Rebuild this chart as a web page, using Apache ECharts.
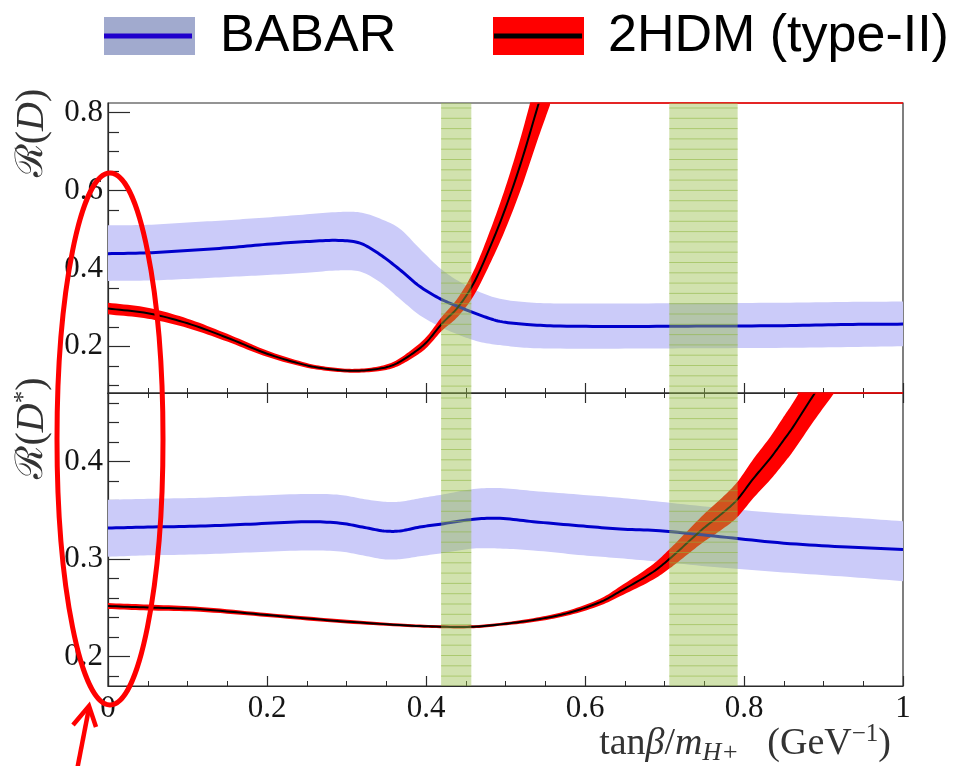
<!DOCTYPE html>
<html><head><meta charset="utf-8">
<script src="https://cdn.jsdelivr.net/npm/echarts@6/dist/echarts.min.js"></script>
<style>html,body{margin:0;padding:0;background:#fff}#c{width:958px;height:766px}</style>
</head><body><div id="c"></div>
<script>
// ---------- data ----------
// R(D) panel, BABAR measurement band
const rdBabarX  = [0, 0.05, 0.1, 0.15, 0.2, 0.25, 0.29, 0.317, 0.342, 0.367, 0.392, 0.418, 0.443, 0.468, 0.493, 0.527, 0.569, 0.65, 0.75, 0.85, 0.93, 1.0];
const rdBabarC  = [0.438, 0.440, 0.446, 0.453, 0.462, 0.469, 0.472, 0.465, 0.436, 0.397, 0.354, 0.322, 0.300, 0.280, 0.264, 0.256, 0.252, 0.251, 0.252, 0.253, 0.256, 0.257];
const rdBabarHi = [0.511, 0.512, 0.518, 0.524, 0.531, 0.539, 0.545, 0.544, 0.528, 0.502, 0.451, 0.400, 0.365, 0.339, 0.322, 0.313, 0.310, 0.310, 0.311, 0.312, 0.314, 0.315];
const rdBabarLo = [0.368, 0.369, 0.373, 0.378, 0.383, 0.389, 0.395, 0.392, 0.365, 0.322, 0.280, 0.250, 0.228, 0.211, 0.203, 0.196, 0.194, 0.194, 0.195, 0.196, 0.198, 0.200];
// R(D) panel, 2HDM type-II prediction
const rd2hdmX   = [0, 0.05, 0.1, 0.15, 0.2, 0.25, 0.28, 0.31, 0.34, 0.36, 0.38, 0.4, 0.42, 0.44, 0.46, 0.48, 0.5, 0.52, 0.54, 0.556];
const rd2hdmC   = [0.297, 0.285, 0.259, 0.222, 0.181, 0.151, 0.141, 0.137, 0.142, 0.153, 0.177, 0.209, 0.258, 0.300, 0.362, 0.452, 0.555, 0.675, 0.812, 0.92];
const rd2hdmErr = [0.015, 0.014, 0.012, 0.010, 0.008, 0.006, 0.005, 0.005, 0.006, 0.008, 0.011, 0.014, 0.018, 0.024, 0.032, 0.042, 0.054, 0.068, 0.084, 0.1];
// R(D*) panel, BABAR
const rdsBabarX  = [0, 0.05, 0.116, 0.179, 0.25, 0.292, 0.32, 0.347, 0.367, 0.392, 0.418, 0.46, 0.493, 0.535, 0.598, 0.644, 0.694, 0.77, 0.85, 0.93, 1.0];
const rdsBabarC  = [0.332, 0.333, 0.334, 0.336, 0.3385, 0.337, 0.333, 0.329, 0.329, 0.333, 0.336, 0.341, 0.342, 0.3385, 0.334, 0.331, 0.3292, 0.3231, 0.3165, 0.3125, 0.310];
const rdsBabarHi = [0.361, 0.362, 0.363, 0.365, 0.367, 0.366, 0.362, 0.359, 0.359, 0.3625, 0.366, 0.372, 0.373, 0.370, 0.366, 0.363, 0.359, 0.3525, 0.347, 0.343, 0.339];
const rdsBabarLo = [0.3026, 0.304, 0.305, 0.307, 0.309, 0.308, 0.304, 0.300, 0.300, 0.303, 0.306, 0.311, 0.311, 0.309, 0.304, 0.301, 0.2974, 0.2915, 0.2865, 0.282, 0.2775];
// R(D*) panel, 2HDM type-II
const rds2hdmX   = [0, 0.05, 0.116, 0.2, 0.284, 0.367, 0.418, 0.46, 0.493, 0.535, 0.577, 0.619, 0.644, 0.686, 0.707, 0.728, 0.749, 0.770, 0.791, 0.812, 0.833, 0.850, 0.862, 0.888, 0.914];
const rds2hdmC   = [0.252, 0.2505, 0.2486, 0.2428, 0.237, 0.2325, 0.2308, 0.2308, 0.2332, 0.2376, 0.2445, 0.256, 0.267, 0.2872, 0.3009, 0.3163, 0.3317, 0.3453, 0.3607, 0.383, 0.4035, 0.4223, 0.436, 0.469, 0.50];
const rds2hdmErr = [0.003, 0.003, 0.0025, 0.002, 0.002, 0.0015, 0.0015, 0.0015, 0.0015, 0.002, 0.0025, 0.0035, 0.005, 0.008, 0.010, 0.012, 0.014, 0.016, 0.018, 0.020, 0.022, 0.024, 0.025, 0.027, 0.029];
// red band clipped along the top frame (x start, x end)
const rdRedEdge  = [0.531, 1];
const rdsRedEdge = [0.867, 1];
// highlighted tanβ/mH regions
const greenBands = [[0.419, 0.457], [0.706, 0.792]];
// axes
const rdRange  = [0.08, 0.825];
const rdsRange = [0.17, 0.4705];
const rdMajor  = [0.2, 0.4, 0.6, 0.8];
const rdMinor  = [0.1, 0.15, 0.25, 0.3, 0.35, 0.45, 0.5, 0.55, 0.65, 0.7, 0.75];
const rdsMajor = [0.2, 0.3, 0.4];
const rdsMinor = [0.18, 0.22, 0.24, 0.26, 0.28, 0.32, 0.34, 0.36, 0.38, 0.42, 0.44, 0.46];
const legendNames = ['BABAR', '2HDM (type-II)'];

// ---------- chart ----------
const chart = echarts.init(document.getElementById('c'), null, {renderer: 'canvas'});
const FRAME = '#2b2b2b';
const SERIF = 'Liberation Serif, Times New Roman, serif';

// smooth drawing (monotone-in-x cubic Hermite) of pixel points already mapped by the axes
function smoothPts(p) {
  const n = p.length, out = [];
  const m = p.map((_, i) => {
    const a = p[Math.max(0, i - 1)], b = p[Math.min(n - 1, i + 1)];
    return (b[1] - a[1]) / ((b[0] - a[0]) || 1);
  });
  out.push(p[0]);
  for (let i = 0; i < n - 1; i++) {
    const dx = p[i + 1][0] - p[i][0];
    const c1 = [p[i][0] + dx / 3, p[i][1] + m[i] * dx / 3];
    const c2 = [p[i + 1][0] - dx / 3, p[i + 1][1] - m[i + 1] * dx / 3];
    for (let k = 1; k <= 10; k++) {
      const t = k / 10, u = 1 - t;
      out.push([
        u * u * u * p[i][0] + 3 * u * u * t * c1[0] + 3 * u * t * t * c2[0] + t * t * t * p[i + 1][0],
        u * u * u * p[i][1] + 3 * u * u * t * c1[1] + 3 * u * t * t * c2[1] + t * t * t * p[i + 1][1]
      ]);
    }
  }
  return out;
}
function clipRect(cs) {
  return {type: 'rect', shape: {x: cs.x, y: cs.y, width: cs.width, height: cs.height}};
}
function bandSeries(xs, lo, hi, color, xi, yi, range) {
  return {type: 'custom', xAxisIndex: xi, yAxisIndex: yi, silent: true, z: 2,
    data: [[xs[0], (range[0] + range[1]) / 2]], encode: {x: 0, y: 1},
    renderItem: function (params, api) {
      const up = smoothPts(xs.map((x, i) => api.coord([x, hi[i]])));
      const dn = smoothPts(xs.map((x, i) => api.coord([x, lo[i]]))).reverse();
      return {type: 'polygon', shape: {points: up.concat(dn)},
        style: {fill: color, stroke: null}, clipPath: clipRect(params.coordSys)};
    }};
}
function lineSeries(xs, ys, color, w, xi, yi, range) {
  return {type: 'custom', xAxisIndex: xi, yAxisIndex: yi, silent: true, z: 3,
    data: [[xs[0], (range[0] + range[1]) / 2]], encode: {x: 0, y: 1},
    renderItem: function (params, api) {
      const pts = smoothPts(xs.map((x, i) => api.coord([x, ys[i]])));
      return {type: 'polyline', shape: {points: pts},
        style: {stroke: color, lineWidth: w, fill: null, lineJoin: 'round'}, clipPath: clipRect(params.coordSys)};
    }};
}
function edgeSeries(xr, yv, xi, yi) {
  return {type: 'line', xAxisIndex: xi, yAxisIndex: yi, symbol: 'none', silent: true, clip: false, z: 3,
    lineStyle: {color: '#ff0000', width: 1.5}, data: [[xr[0], yv], [xr[1], yv]]};
}
function greenSeries(xi, yi) {
  return {type: 'custom', xAxisIndex: xi, yAxisIndex: yi, z: 5, silent: true,
    data: greenBands.map(b => [b[0], b[1]]), encode: {x: [0, 1]},
    renderItem: function (params, api) {
      const cs = params.coordSys;
      const x0 = api.coord([api.value(0), 0.3])[0];
      const x1 = api.coord([api.value(1), 0.3])[0];
      const children = [{type: 'rect', shape: {x: x0, y: cs.y, width: x1 - x0, height: cs.height},
        style: {fill: 'rgba(150,190,70,0.44)'}}];
      for (let y = cs.y + 5; y < cs.y + cs.height; y += 10.3) {
        children.push({type: 'line', shape: {x1: x0, y1: y, x2: x1, y2: y},
          style: {stroke: 'rgba(140,180,60,0.55)', lineWidth: 1}});
      }
      return {type: 'group', children: children};
    }};
}

const rdLo = rd2hdmC.map((c, i) => c - rd2hdmErr[i]);
const rdHi = rd2hdmC.map((c, i) => c + rd2hdmErr[i]);
const rdsLo = rds2hdmC.map((c, i) => c - rds2hdmErr[i]);
const rdsHi = rds2hdmC.map((c, i) => c + rds2hdmErr[i]);

function xAxisCfg(gi, pos, showLabel) {
  return {type: 'value', gridIndex: gi, min: 0, max: 1, interval: 0.2, position: pos,
    axisLine: {show: true, onZero: false, lineStyle: {color: FRAME, width: 1.2}},
    axisTick: {show: true, inside: true, length: 10, lineStyle: {color: FRAME, width: 1.2}},
    minorTick: {show: true, splitNumber: 4, length: 5, lineStyle: {color: FRAME, width: 1}},
    axisLabel: {show: showLabel, color: '#151515', fontFamily: SERIF, fontSize: 31, margin: 7,
      showMinLabel: true, showMaxLabel: true},
    splitLine: {show: false}, minorSplitLine: {show: false}};
}
function yAxisCfg(gi, range, ticks, major) {
  return {type: 'value', gridIndex: gi, min: range[0], max: range[1], position: 'left',
    axisLine: {show: major, onZero: false, lineStyle: {color: FRAME, width: 1.2}},
    axisTick: {show: true, inside: true, length: major ? 22 : 11, customValues: ticks,
      lineStyle: {color: FRAME, width: 1.2}},
    axisLabel: major ? {show: true, customValues: ticks, color: '#151515', fontFamily: SERIF,
      fontSize: 31, margin: 5, formatter: v => (Math.round(v * 10) / 10).toString()} : {show: false},
    splitLine: {show: false}};
}

const option = {
  animation: false,
  backgroundColor: '#fff',
  grid: [
    {left: 108, top: 103, width: 795, height: 290, show: true, borderColor: FRAME, borderWidth: 1.2, backgroundColor: 'transparent'},
    {left: 108, top: 393, width: 795, height: 293, show: true, borderColor: FRAME, borderWidth: 1.2, backgroundColor: 'transparent'}
  ],
  xAxis: [xAxisCfg(0, 'bottom', false), xAxisCfg(1, 'bottom', true), xAxisCfg(1, 'top', false)],
  yAxis: [yAxisCfg(0, rdRange, rdMajor, true), yAxisCfg(0, rdRange, rdMinor, false),
          yAxisCfg(1, rdsRange, rdsMajor, true), yAxisCfg(1, rdsRange, rdsMinor, false)],
  series: [
    bandSeries(rdBabarX, rdBabarLo, rdBabarHi, '#cbcbf9', 0, 0, rdRange),
    lineSeries(rdBabarX, rdBabarC, '#0000cc', 3, 0, 0, rdRange),
    bandSeries(rd2hdmX, rdLo, rdHi, '#ff0000', 0, 0, rdRange),
    lineSeries(rd2hdmX, rd2hdmC, '#000000', 2, 0, 0, rdRange),
    edgeSeries(rdRedEdge, rdRange[1], 0, 0),
    greenSeries(0, 0),
    bandSeries(rdsBabarX, rdsBabarLo, rdsBabarHi, '#cbcbf9', 1, 2, rdsRange),
    lineSeries(rdsBabarX, rdsBabarC, '#0000cc', 3, 1, 2, rdsRange),
    bandSeries(rds2hdmX, rdsLo, rdsHi, '#ff0000', 1, 2, rdsRange),
    lineSeries(rds2hdmX, rds2hdmC, '#000000', 2, 1, 2, rdsRange),
    edgeSeries(rdsRedEdge, rdsRange[1], 1, 2),
    greenSeries(1, 2)
  ],
  graphic: [
    // legend
    {type: 'rect', shape: {x: 104, y: 17, width: 91, height: 38}, style: {fill: '#a1aace'}, z: 50},
    {type: 'rect', shape: {x: 104, y: 33.5, width: 88, height: 5}, style: {fill: '#2000cc'}, z: 51},
    {type: 'text', x: 220, y: 37, z: 51, style: {text: legendNames[0], fontFamily: 'Liberation Sans, Arial, sans-serif',
      fontSize: 52, fill: '#000', align: 'left', verticalAlign: 'middle'}},
    {type: 'rect', shape: {x: 493, y: 17, width: 91, height: 38}, style: {fill: '#ff0000'}, z: 50},
    {type: 'rect', shape: {x: 494, y: 33.5, width: 88, height: 5}, style: {fill: '#000'}, z: 51},
    {type: 'text', x: 608, y: 37, z: 51, style: {text: legendNames[1], fontFamily: 'Liberation Sans, Arial, sans-serif',
      fontSize: 52, fill: '#000', align: 'left', verticalAlign: 'middle'}},
    // axis titles
    {type: 'text', x: 32, y: 133, rotation: Math.PI / 2, z: 51, style: {
      text: '{c|ℛ}{n|(}{i|D}{n|)}', align: 'center', verticalAlign: 'middle', fill: '#333',
      rich: {c: {fontFamily: 'DejaVu Serif', fontSize: 38, fill: '#333'},
             n: {fontFamily: SERIF, fontSize: 40, fill: '#333'},
             i: {fontFamily: SERIF, fontStyle: 'italic', fontSize: 40, fill: '#333'}}}},
    {type: 'text', x: 32, y: 428, rotation: Math.PI / 2, z: 51, style: {
      text: '{c|ℛ}{n|(}{i|D}{s|*}{n|)}', align: 'center', verticalAlign: 'middle', fill: '#333',
      rich: {c: {fontFamily: 'DejaVu Serif', fontSize: 38, fill: '#333'},
             n: {fontFamily: SERIF, fontSize: 40, fill: '#333'},
             i: {fontFamily: SERIF, fontStyle: 'italic', fontSize: 40, fill: '#333'},
             s: {fontFamily: SERIF, fontSize: 25, fill: '#333', verticalAlign: 'top', lineHeight: 40}}}},
    {type: 'text', x: 891, y: 744, z: 51, style: {
      text: '{n|tan}{i|β}{n|/}{i|m}{b|H+}{n|   (GeV}{p|−1}{n|)}', align: 'right', verticalAlign: 'middle', fill: '#333',
      rich: {n: {fontFamily: SERIF, fontSize: 38, fill: '#333', lineHeight: 44},
             i: {fontFamily: SERIF, fontStyle: 'italic', fontSize: 38, fill: '#333', lineHeight: 44},
             b: {fontFamily: SERIF, fontStyle: 'italic', fontSize: 26, fill: '#333', verticalAlign: 'bottom', lineHeight: 44},
             p: {fontFamily: SERIF, fontSize: 25, fill: '#333', verticalAlign: 'top', lineHeight: 44}}}},
    // red annotation
    {type: 'ellipse', shape: {cx: 110, cy: 439, rx: 53, ry: 266}, style: {fill: 'none', stroke: '#ff0000', lineWidth: 5}, z: 60},
    {type: 'polyline', shape: {points: [[77, 770], [89, 708]]}, style: {stroke: '#ff0000', lineWidth: 4.5, fill: null}, z: 60},
    {type: 'polyline', shape: {points: [[73, 725], [89, 706], [96, 727]]}, style: {stroke: '#ff0000', lineWidth: 4.5, fill: null}, z: 60}
  ]
};
chart.setOption(option);
</script></body></html>
